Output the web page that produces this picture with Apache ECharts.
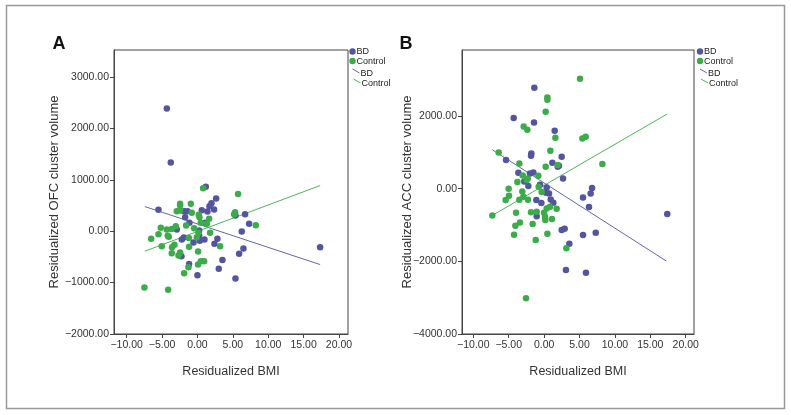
<!DOCTYPE html>
<html><head><meta charset="utf-8">
<script src="https://cdn.jsdelivr.net/npm/echarts@6/dist/echarts.min.js"></script>
<style>html,body{margin:0;padding:0;background:#fff}#c{width:791px;height:415px}</style>
</head><body><div id="c"></div>
<script>
const xTicks = [-10, -5, 0, 5, 10, 15, 20];
const yTicksA = [-2000, -1000, 0, 1000, 2000, 3000];
const yTicksB = [-4000, -2000, 0, 2000];

const bdA = [[-4.33,2387],[-3.77,1336],[-5.51,415],[1.18,863],[2.64,636],[1.98,545],[1.70,486],[2.35,422],[1.41,383],[0.61,409],[-1.88,389],[-1.41,389],[-1.74,272],[-1.13,162],[1.13,162],[-2.92,32],[0.24,13],[0.24,-84],[-2.21,-162],[-1.93,-123],[-0.56,-220],[0.33,-188],[0.99,-162],[2.82,-149],[2.40,-246],[3.53,-558],[3.01,-733],[0,-856],[-1.18,-636],[-2.26,-486],[5.37,-921],[5.89,-441],[6.50,-337],[6.26,-6],[5.37,305],[6.73,331],[7.30,143],[17.33,-311]];
const ctlA = [[0.80,837],[5.74,726],[-2.45,532],[-2.45,500],[-0.94,532],[-2.92,389],[-2.45,402],[-0.80,357],[0.19,318],[0.28,272],[1.65,240],[0.47,162],[1.32,143],[-1.60,110],[-0.47,58],[-5.18,65],[-4.33,32],[-3.63,45],[-3.06,97],[0.14,-32],[-0.09,-117],[1.79,-32],[-5.51,-58],[-6.54,-149],[-4.05,-110],[-4.19,-90],[-1.22,-130],[-5.04,-292],[-3.58,-311],[-3.25,-266],[-1.18,-305],[3.20,-292],[0.09,-396],[-3.63,-428],[-2.45,-415],[-2.68,-473],[0.47,-584],[0.94,-584],[0.09,-649],[-1.27,-700],[-1.88,-817],[-7.49,-1096],[-4.14,-1141],[5.32,370],[5.18,331],[8.24,117]];
const fitBdA = [[-7.44,480],[17.33,-649]];
const fitCtlA = [[-7.44,-389],[17.33,888]];

const bdB = [[-1.38,2780],[-4.30,1945],[-1.43,1826],[1.49,1596],[-5.38,789],[-1.81,972],[-1.85,908],[2.48,881],[1.16,716],[1.92,605],[2.10,630],[-3.64,440],[-2.0,422],[-1.52,450],[2.67,284],[-2.80,202],[-2.23,73],[-0.58,110],[0.36,37],[0.27,-110],[0.69,-128],[6.77,18],[6.57,-128],[5.49,-239],[-1.10,-312],[-0.39,-394],[0.93,-294],[1.30,-385],[6.34,-505],[-1.05,-761],[2.48,-1138],[2.90,-1101],[7.29,-1211],[5.49,-1275],[3.56,-1514],[3.08,-2238],[5.91,-2312],[17.39,-697]];
const ctlB = [[5.07,3027],[0.46,2514],[0.46,2449],[0.22,2119],[-2.89,1716],[-2.37,1624],[1.59,1404],[5.40,1385],[5.87,1431],[0.88,1046],[-6.42,1000],[-3.50,697],[8.23,679],[0.22,606],[1.92,651],[-3.03,367],[-0.82,358],[-2.32,284],[-2.46,239],[-3.78,183],[-0.77,55],[-5.01,0],[-3.08,-73],[-0.34,-92],[-4.96,-193],[-2.93,-220],[-5.44,-312],[-3.50,-303],[-2.28,-303],[0.83,-495],[0.36,-541],[1.77,-550],[-7.32,-734],[-3.97,-661],[-1.85,-651],[-1.05,-633],[-0.01,-661],[0.13,-771],[0.17,-862],[1.11,-835],[-3.41,-927],[-1.62,-972],[-4.06,-1018],[-4.25,-1266],[0.46,-1238],[-1.19,-1413],[3.14,-1642],[-2.56,-3018]];
const fitBdB = [[-7.32,1073],[17.26,-1991]];
const fitCtlB = [[-7.32,-734],[17.36,2055]];

const BLUE = '#53559f', GREEN = '#3cab4a', BLUE_L = '#6466ad', GREEN_L = '#4db558';
const FONT = 'Liberation Sans, Arial, sans-serif';
const fmt = v => (v < 0 ? '\u2212' : '') + Math.abs(v).toFixed(2);

function xAxis(idx, min, max) {
  return {
    type: 'value', gridIndex: idx, min: min, max: max,
    name: 'Residualized BMI', nameLocation: 'middle', nameGap: 31,
    nameTextStyle: { fontFamily: FONT, fontSize: 12.5, color: '#333' },
    axisLine: { show: true, onZero: false, lineStyle: { color: '#444', width: 1 } },
    axisTick: { show: true, length: 4, customValues: xTicks, lineStyle: { color: '#444' } },
    axisLabel: { customValues: xTicks, formatter: fmt, margin: 6, fontFamily: FONT, fontSize: 10.5, color: '#333' },
    splitLine: { show: false }
  };
}
function yAxis(idx, min, max, ticks, name, gap) {
  return {
    type: 'value', gridIndex: idx, min: min, max: max,
    name: name, nameLocation: 'middle', nameGap: gap, nameMoveOverlap: false,
    nameTextStyle: { fontFamily: FONT, fontSize: 13, color: '#333' },
    axisLine: { show: true, onZero: false, lineStyle: { color: '#444', width: 1 } },
    axisTick: { show: true, length: 4, customValues: ticks, lineStyle: { color: '#444' } },
    axisLabel: { customValues: ticks, formatter: fmt, margin: 5, fontFamily: FONT, fontSize: 10.5, color: '#333' },
    splitLine: { show: false }
  };
}
function scatter(name, data, color, gi) {
  return { type: 'scatter', name: name, data: data, xAxisIndex: gi, yAxisIndex: gi,
    symbolSize: 6.5, itemStyle: { color: color, opacity: 1 }, z: 3 };
}
function fit(name, data, color, gi) {
  return { type: 'line', name: name, data: data, xAxisIndex: gi, yAxisIndex: gi,
    symbol: 'none', lineStyle: { color: color, width: 1 }, z: 2 };
}
function legend(x, y) {
  const t = (tx, ty, s) => ({ type: 'text', x: tx, y: ty, style: { text: s, fontFamily: FONT, fontSize: 9, fill: '#222', verticalAlign: 'middle' } });
  return { type: 'group', children: [
    { type: 'circle', shape: { cx: x, cy: y, r: 3.2 }, style: { fill: BLUE } },
    t(x + 4, y + 0.5, 'BD'),
    { type: 'circle', shape: { cx: x, cy: y + 9.5, r: 3.2 }, style: { fill: GREEN } },
    t(x + 4, y + 10.5, 'Control'),
    { type: 'line', shape: { x1: x, y1: y + 17.5, x2: x + 7, y2: y + 21.5 }, style: { stroke: BLUE_L, lineWidth: 1 } },
    t(x + 8, y + 22, 'BD'),
    { type: 'line', shape: { x1: x + 1, y1: y + 27.5, x2: x + 8, y2: y + 31.5 }, style: { stroke: GREEN_L, lineWidth: 1 } },
    t(x + 9, y + 32, 'Control')
  ]};
}

const chart = echarts.init(document.getElementById('c'), null, { renderer: 'canvas' });
chart.setOption({
  animation: false,
  backgroundColor: '#fff',
  grid: [
    { left: 114, top: 50, width: 234, height: 284, show: true, borderColor: '#444', borderWidth: 1 },
    { left: 462, top: 50, width: 232, height: 284, show: true, borderColor: '#444', borderWidth: 1 }
  ],
  xAxis: [xAxis(0, -11.79, 21.27), xAxis(1, -11.6, 21.17)],
  yAxis: [
    yAxis(0, -2000, 3525, yTicksA, 'Residualized OFC cluster volume', 53),
    yAxis(1, -4000, 3820, yTicksB, 'Residualized ACC cluster volume', 48)
  ],
  series: [
    fit('BD fit', fitBdA, BLUE_L, 0), fit('Control fit', fitCtlA, GREEN_L, 0),
    scatter('BD', bdA, BLUE, 0), scatter('Control', ctlA, GREEN, 0),
    fit('BD fit', fitBdB, BLUE_L, 1), fit('Control fit', fitCtlB, GREEN_L, 1),
    scatter('BD', bdB, BLUE, 1), scatter('Control', ctlB, GREEN, 1)
  ],
  graphic: [
    { type: 'rect', shape: { x: 6.5, y: 5.5, width: 778, height: 403 }, style: { fill: 'none', stroke: '#999', lineWidth: 1.5 }, z: -1 },
    { type: 'text', x: 59, y: 44, style: { text: 'A', fontFamily: FONT, fontSize: 18, fontWeight: 'bold', fill: '#111', align: 'center', verticalAlign: 'middle' } },
    { type: 'text', x: 406, y: 44, style: { text: 'B', fontFamily: FONT, fontSize: 18, fontWeight: 'bold', fill: '#111', align: 'center', verticalAlign: 'middle' } },
    legend(352.5, 51.5),
    legend(700, 51.5)
  ]
});
</script></body></html>
